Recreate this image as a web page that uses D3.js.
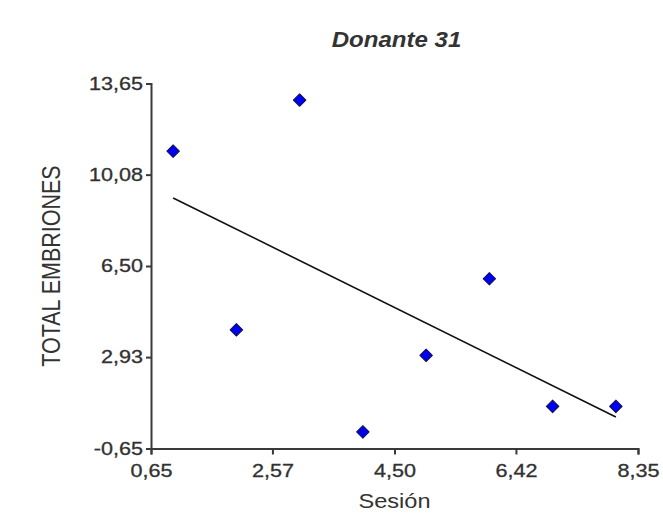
<!DOCTYPE html>
<html>
<head>
<meta charset="utf-8">
<script src="https://cdn.jsdelivr.net/npm/d3@7"></script>
<style>
  html, body { margin: 0; padding: 0; background: #fff; }
  svg { display: block; }
  text { font-family: "Liberation Sans", Arial, sans-serif; fill: #333; }
</style>
</head>
<body>
<svg id="chart" width="663" height="532"></svg>
<script>
// Sessions and total embryos per session for donor 31
const sesion = [1, 2, 3, 4, 5, 6, 7, 8];
const totalEmbriones = [11, 4, 13, 0, 3, 6, 1, 1];

// Axis tick values as printed on the chart
const xTicks = [0.65, 2.57, 4.50, 6.42, 8.35];
const yTicks = [-0.65, 2.93, 6.50, 10.08, 13.65];

const titulo = "Donante 31";
const xTitulo = "Sesión";
const yTitulo = "TOTAL EMBRIONES";

const plot = { left: 151, right: 638, top: 83.5, bottom: 448.5 };
const stretch = 1.2; // wide lettering of the chart's text

const svg = d3.select("#chart");

const x = d3.scaleLinear().domain([xTicks[0], xTicks[xTicks.length - 1]]).range([plot.left, plot.right]);
const y = d3.scaleLinear().domain([yTicks[0], yTicks[yTicks.length - 1]]).range([plot.bottom, plot.top]);

const fmt = v => v.toFixed(2).replace(".", ",");

// Axes
const xAxis = svg.append("g")
  .attr("transform", `translate(0,${plot.bottom})`)
  .call(d3.axisBottom(x).tickValues(xTicks).tickFormat(fmt).tickSizeOuter(0).tickSize(6).tickPadding(6));
const yAxis = svg.append("g")
  .attr("transform", `translate(${plot.left},0)`)
  .call(d3.axisLeft(y).tickValues(yTicks).tickFormat(fmt).tickSizeOuter(0).tickSize(5).tickPadding(3));

[xAxis, yAxis].forEach(g => {
  g.select(".domain").attr("stroke", "#3a3a3a").attr("stroke-width", 2);
  g.selectAll(".tick line").attr("stroke", "#3a3a3a").attr("stroke-width", 2);
  g.selectAll(".tick text")
    .attr("fill", "#2e2e2e")
    .attr("stroke", "#2e2e2e")
    .attr("stroke-width", 0.3)
    .style("font-size", "18px")
    .style("font-family", '"Liberation Sans", Arial, sans-serif');
});

xAxis.selectAll(".tick text").each(function () {
  const t = d3.select(this);
  const yy = +t.attr("y");
  t.attr("y", null).attr("dy", "0.71em").attr("transform", `translate(0,${yy + 4}) scale(${stretch},1)`);
});
yAxis.selectAll(".tick text").each(function () {
  const t = d3.select(this);
  const xx = +t.attr("x");
  t.attr("x", null).attr("transform", `translate(${xx},0) scale(${stretch},1)`);
});

// Least-squares fit line over the observed sessions
const mx = d3.mean(sesion), my = d3.mean(totalEmbriones);
const sxy = d3.sum(sesion, (v, i) => (v - mx) * (totalEmbriones[i] - my));
const sxx = d3.sum(sesion, v => (v - mx) * (v - mx));
const b = sxy / sxx, a = my - b * mx;
const xMin = d3.min(sesion), xMax = d3.max(sesion);

svg.append("path")
  .datum([xMin, xMax])
  .attr("d", d3.line().x(d => x(d)).y(d => y(a + b * d)))
  .attr("fill", "none")
  .attr("stroke", "#111")
  .attr("stroke-width", 1.6);

// Data points
svg.append("g").selectAll("path")
  .data(sesion.map((s, i) => [s, totalEmbriones[i]]))
  .join("path")
  .attr("d", d3.symbol(d3.symbolSquare, 78))
  .attr("transform", d => `translate(${x(d[0])},${y(d[1])}) rotate(45)`)
  .attr("fill", "#0000f0")
  .attr("stroke", "#10104a")
  .attr("stroke-width", 1)
  .attr("stroke-linejoin", "round");

// Title and axis titles
svg.append("text")
  .attr("transform", `translate(${(plot.left + plot.right) / 2 + 2},47) scale(1.12,1)`)
  .attr("text-anchor", "middle")
  .style("font-size", "21.5px")
  .style("font-weight", "bold")
  .style("font-style", "italic")
  .attr("fill", "#1a1a1a")
  .text(titulo);

svg.append("text")
  .attr("transform", `translate(${(plot.left + plot.right) / 2},508) scale(1.18,1)`)
  .attr("text-anchor", "middle")
  .style("font-size", "20px")
  .attr("fill", "#3a3a3a")
  .text(xTitulo);

svg.append("text")
  .attr("transform", `translate(60,${(plot.top + plot.bottom) / 2}) rotate(-90) scale(1,1.2)`)
  .attr("text-anchor", "middle")
  .style("font-size", "21.5px")
  .attr("fill", "#3a3a3a")
  .text(yTitulo);
</script>
</body>
</html>
